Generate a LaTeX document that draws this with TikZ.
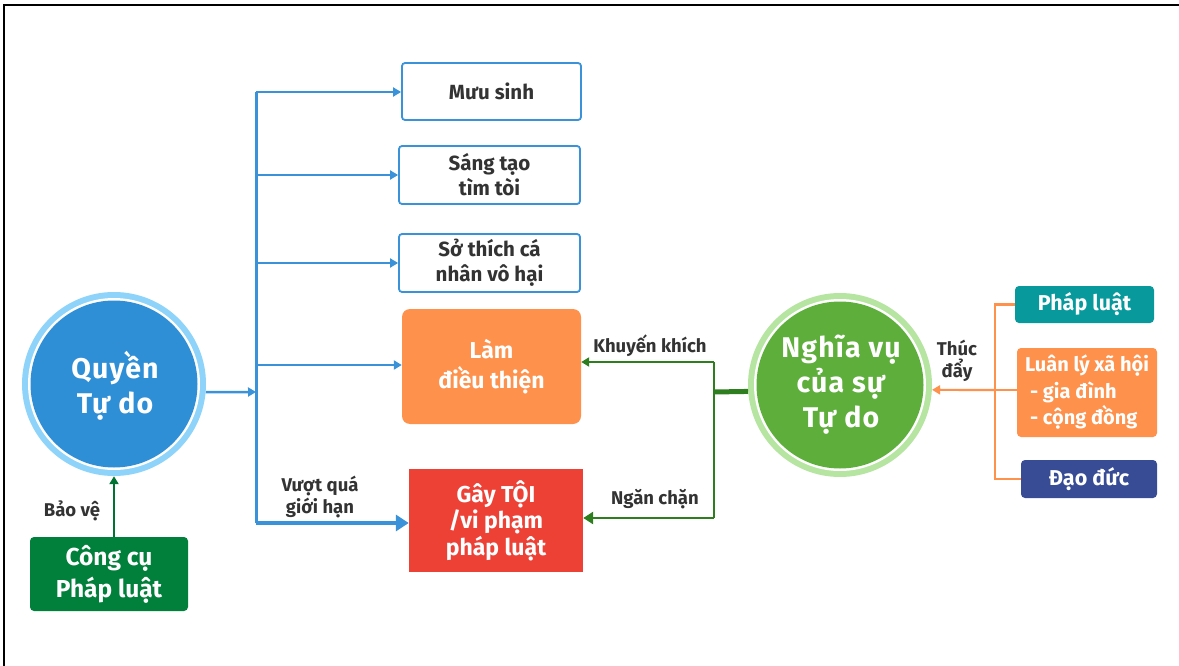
\documentclass[tikz,border=0pt]{standalone}
\usepackage{fontspec}
\setmainfont{Fira Sans}
\newfontfamily\circfont{Fira Sans}[LetterSpace=4]
\usetikzlibrary{arrows.meta}
\definecolor{cbl}{HTML}{2F8FD6}
\definecolor{cblring}{HTML}{8ED3F9}
\definecolor{cbline}{HTML}{3A92D8}
\definecolor{cgd}{HTML}{5EAE3B}
\definecolor{cgring}{HTML}{B5E5A1}
\definecolor{cgline}{HTML}{2E7D1F}
\definecolor{corg}{HTML}{FE914B}
\definecolor{crd}{HTML}{EE4136}
\definecolor{cteal}{HTML}{08999D}
\definecolor{cnavy}{HTML}{374C95}
\definecolor{cdg}{HTML}{00803A}
\definecolor{ctxt}{HTML}{333333}
\begin{document}
\begin{tikzpicture}[x=1pt,y=-1pt,
  every node/.style={font=\bfseries, align=center, inner sep=0pt},
  wbox/.style={draw=cbline, line width=1.8pt, rounded corners=3pt, fill=white, text=ctxt, font=\bfseries\fontsize{20.5}{25}\selectfont},
  fbox/.style={rounded corners=4pt, text=white, font=\bfseries\fontsize{23}{28}\selectfont},
  lbl/.style={text=ctxt, font=\bfseries\fontsize{18.5}{22}\selectfont},
  ctext/.style={text=white, font=\circfont\bfseries\fontsize{28.5}{35}\selectfont},
  barrow/.style={draw=cbline, line width=2.5pt, -{Triangle[length=8pt,width=9pt]}},
  garrow/.style={draw=cgline, line width=2.2pt, -{Triangle[length=8pt,width=9pt]}},
  oline/.style={draw=corg, line width=2.2pt}]
\useasboundingbox (0,0) rectangle (1179,666);
% border
\draw[line width=1.8pt, black] (4,666) -- (4,5) -- (1179,5);

% left circle
\node[circle, fill=cblring, minimum size=184pt] (q) at (114,384) {};
\fill[white] (q.center) circle (86);
\fill[cbl] (q.center) circle (83.5);
\node[ctext] at (115,386) {Quyền\\Tự do};

% Công cụ
\node[fbox, fill=cdg, minimum width=158pt, minimum height=74pt, font=\bfseries\fontsize{24.5}{32}\selectfont] (cc) at (109,574) {Công cụ\\Pháp luật};
\draw[draw=cdg!90!black, line width=2.2pt, -{Triangle[length=8pt,width=9pt]}] (q.south |- cc.north) -- (q.south);
\node[lbl] at (72,511) {Bảo vệ};

% right boxes
\node[wbox, minimum width=179pt, minimum height=57pt] (m) at (491.5,91.5) {Mưu sinh};
\node[wbox, minimum width=181pt, minimum height=58pt] (st) at (489.5,175) {Sáng tạo\\tìm tòi};
\node[wbox, minimum width=181pt, minimum height=58pt] (sth) at (489.5,263) {Sở thích cá\\nhân vô hại};
\node[fbox, fill=corg, minimum width=179pt, minimum height=115pt, rounded corners=8pt, font=\bfseries\fontsize{23}{30}\selectfont] (l) at (491.5,366.5) {Làm\\điều thiện};
\node[fbox, fill=crd, minimum width=174pt, minimum height=103pt, rounded corners=0pt, font=\bfseries\fontsize{23}{26.5}\selectfont] (g) at (496,520.5) {Gây TỘI\\/vi phạm\\pháp luật};

% blue spine
\coordinate (s1) at (256,92);
\coordinate (s2) at (256,175);
\coordinate (s3) at (256,263);
\coordinate (s4) at (256,365);
\coordinate (s5) at (256,523);
\coordinate (sj) at (256,392);
\draw[draw=cbline, line width=3pt] (s1) -- (s5);
\draw[barrow] (q.-5) -- (sj);
\draw[barrow] (s1) -- (s1 -| m.west);
\draw[barrow] (s2) -- (s2 -| st.west);
\draw[barrow] (s3) -- (s3 -| sth.west);
\draw[barrow] (s4) -- (s4 -| l.west);
\draw[draw=cbline, line width=3.6pt, -{Triangle[length=13pt,width=16pt]}] (s5) -- (s5 -| g.west);
\node[lbl] at (320,497) {Vượt quá\\giới hạn};

% right circle
\node[circle, fill=cgring, minimum size=184pt] (n) at (840,385) {};
\fill[white] (n.center) circle (86);
\fill[cgd] (n.center) circle (83.5);
\node[ctext] at (841,385) {Nghĩa vụ\\của sự\\Tự do};

% green connectors
\coordinate (gj) at (714,392);
\coordinate (gt) at (714,362);
\coordinate (gb) at (714,518);
\draw[draw=cgline, line width=5pt] (n.184) -- (gj);
\draw[draw=cgline, line width=2.2pt] (gt) -- (gb);
\draw[garrow] (gt) -- (gt -| l.east);
\draw[garrow, line width=2.6pt, -{Triangle[length=10pt,width=12pt]}] (gb) -- (gb -| g.east);
\node[lbl] at (650,346) {Khuyến khích};
\node[lbl] at (655,499) {Ngăn chặn};

% right group
\node[fbox, fill=cteal, minimum width=139pt, minimum height=37pt, font=\bfseries\fontsize{21.5}{26}\selectfont] (pl) at (1084.5,304.5) {Pháp luật};
\node[fbox, fill=corg, minimum width=140pt, minimum height=89pt, align=left, font=\bfseries\fontsize{20}{26.5}\selectfont] (ll) at (1087,392.5) {Luân lý xã hội\\\hspace*{0.25em}- gia đình\\\hspace*{0.25em}- cộng đồng};
\node[fbox, fill=cnavy, minimum width=136pt, minimum height=38pt, font=\bfseries\fontsize{21.5}{26}\selectfont] (dd) at (1089,479) {Đạo đức};
\coordinate (o1) at (995,304.5);
\coordinate (o2) at (995,390);
\coordinate (o3) at (995,479);
\draw[oline] (o1 -| pl.west) -- (o1) -- (o3) -- (o3 -| dd.west);
\draw[oline] (o2 -| ll.west) -- (o2);
\draw[oline, -{Triangle[length=8pt,width=9pt]}] (o2) -- (n.-3);
\node[lbl] at (957,361) {Thúc\\đẩy};
\end{tikzpicture}
\end{document}
